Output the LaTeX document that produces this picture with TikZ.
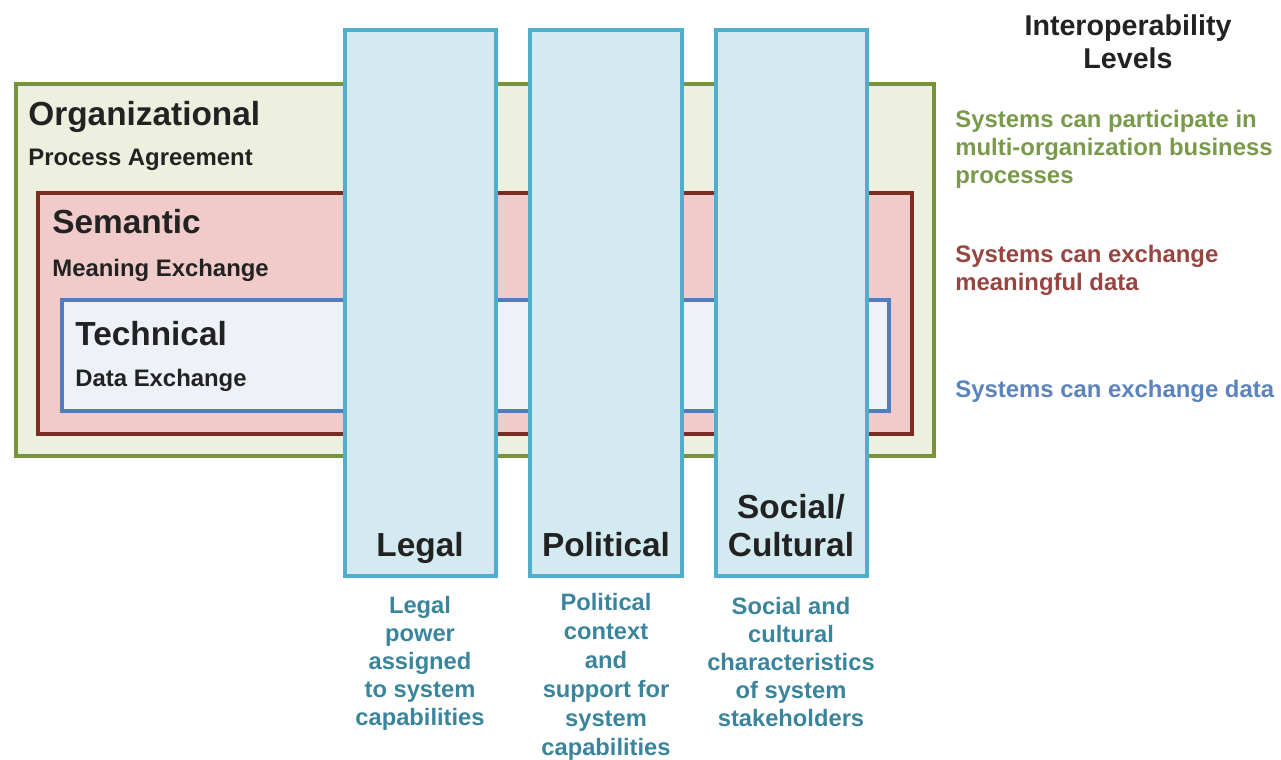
\documentclass[tikz,border=0pt]{standalone}
\usepackage{fontspec}
\setmainfont{Liberation Sans}
\definecolor{orgline}{HTML}{77933C}
\definecolor{orgfill}{HTML}{EEF0DF}
\definecolor{semline}{HTML}{7B2C25}
\definecolor{semfill}{HTML}{F0CBC9}
\definecolor{techline}{HTML}{4F7DBF}
\definecolor{techfill}{HTML}{EEF1F8}
\definecolor{pillarline}{HTML}{4FAFCA}
\definecolor{pillarfill}{HTML}{D3EAF0}
\definecolor{descteal}{HTML}{3A859C}
\definecolor{orgtext}{HTML}{7A9A4B}
\definecolor{semtext}{HTML}{984440}
\definecolor{techtext}{HTML}{5B83BD}
\definecolor{labeltext}{HTML}{222222}
\begin{document}
\begin{tikzpicture}[
        x=0.02cm, y=-0.02cm,
        orgbox/.style={draw=orgline, fill=orgfill, line width=2.3pt},
        sembox/.style={draw=semline, fill=semfill, line width=2.3pt},
        techbox/.style={draw=techline, fill=techfill, line width=2.3pt},
        pillar/.style={draw=pillarline, fill=pillarfill, line width=2.3pt},
        levelname/.style={anchor=base west, inner sep=0pt, text=labeltext, font=\fontsize{19}{22}\selectfont\bfseries},
        levelsub/.style={anchor=base west, inner sep=0pt, text=labeltext, font=\fontsize{13.6}{16}\selectfont\bfseries},
        pillarname/.style={anchor=base, inner sep=0pt, align=center, text=labeltext, font=\fontsize{19}{21.5}\selectfont\bfseries},
        pillardesc/.style={anchor=north, inner sep=0pt, align=center, text=descteal, font=\fontsize{13.5}{16}\selectfont\bfseries},
        leveldesc/.style={anchor=north west, inner sep=0pt, align=left, font=\fontsize{13.6}{16}\selectfont\bfseries},
    ]
    \useasboundingbox (0,0) rectangle (1281,760);
    \draw[orgbox] (16,84) rectangle (934,456);
    \draw[sembox] (38,193) rectangle (912,434);
    \draw[techbox] (62,300) rectangle (889,411);
    \node[levelname] (org) at (28,126) {Organizational};
    \node[levelsub] (orgsub) at (28,166) {Process Agreement};
    \node[levelname] (sem) at (52,234) {Semantic};
    \node[levelsub] (semsub) at (52,276) {Meaning Exchange};
    \node[levelname] (tech) at (75,345) {Technical};
    \node[levelsub] (techsub) at (75,386) {Data Exchange};
    \draw[pillar] (345,30) rectangle (496,576);
    \draw[pillar] (530,30) rectangle (682,576);
    \draw[pillar] (716,30) rectangle (867,576);
    \node[pillarname] (legal) at (420,556) {Legal};
    \node[pillarname] (political) at (606,556) {Political};
    \node[pillarname] (social) at (791,556) {Social/\\Cultural};
    \node[pillardesc] (legaldesc) at (420,596) {Legal\\power\\assigned\\to system\\capabilities};
    \node[pillardesc, font=\fontsize{13.5}{16.5}\selectfont\bfseries] (politicaldesc) at (606,593) {Political\\context\\and\\support for\\system\\capabilities};
    \node[pillardesc] (socialdesc) at (791,597) {Social and\\cultural\\characteristics\\of system\\stakeholders};
    \node[anchor=north, inner sep=0pt, align=center, text=labeltext, font=\fontsize{16.3}{19}\selectfont\bfseries] (title) at (1128,14) {Interoperability\\Levels};
    \node[leveldesc, text=orgtext] (orgdesc) at (955,110) {Systems can participate in\\multi-organization business\\processes};
    \node[leveldesc, text=semtext] (semdesc) at (955,245) {Systems can exchange\\meaningful data};
    \node[leveldesc, text=techtext] (techdesc) at (955,380) {Systems can exchange data};
\end{tikzpicture}
\end{document}
